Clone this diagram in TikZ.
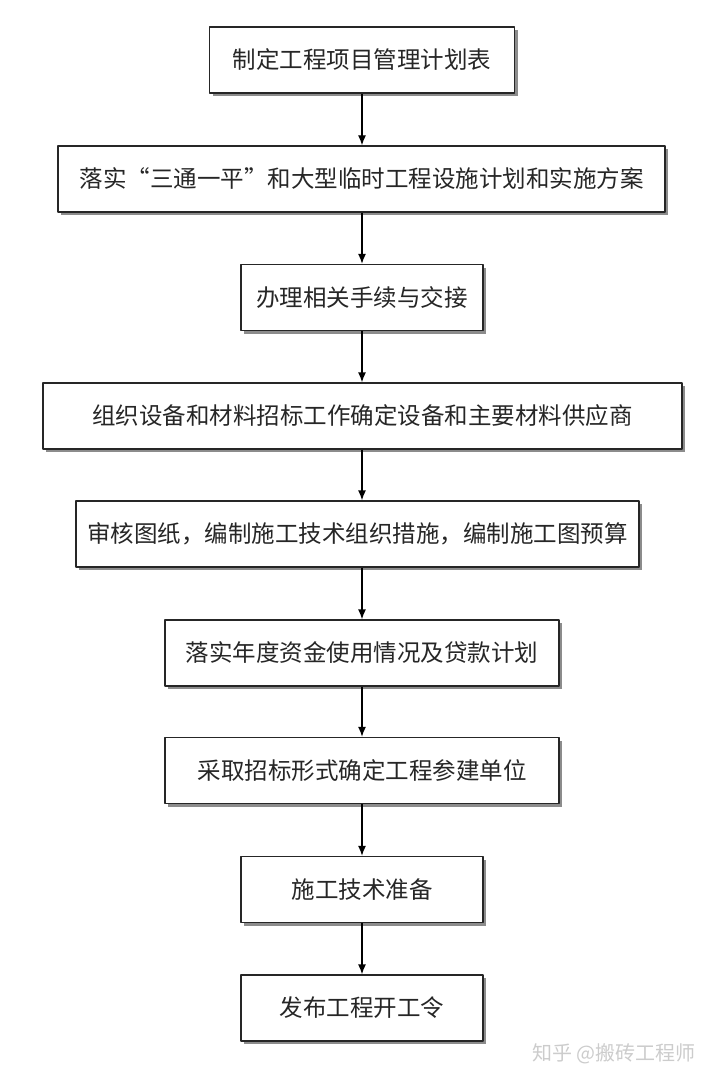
\documentclass[tikz,border=0pt]{standalone}
\usepackage{fontspec}
\setmainfont{Noto Sans CJK SC}
\usetikzlibrary{shadows,arrows.meta}
\begin{document}
\begin{tikzpicture}[x=1pt, y=-1pt, >={Latex[length=10pt,width=8pt]}, line join=round,
    box/.style={draw=black!85, line width=1.3pt, fill=white, inner sep=0pt, minimum height=66pt,
        text=black!85, font=\fontsize{23.5}{27}\selectfont,
        drop shadow={shadow xshift=3pt, shadow yshift=-3pt, fill=black!45, opacity=1}}]
    \useasboundingbox (0,0) rectangle (720,1067);
    % boxes top to bottom
    \node[box, minimum width=305pt] (b1) at (362,60) {制定工程项目管理计划表};
    \node[box, minimum width=607pt] (b2) at (361.5,179) {落实“三通一平”和大型临时工程设施计划和实施方案};
    \node[box, minimum width=242pt] (b3) at (362,297.5) {办理相关手续与交接};
    \node[box, minimum width=639pt] (b4) at (362.5,416) {组织设备和材料招标工作确定设备和主要材料供应商};
    \node[box, minimum width=563pt] (b5) at (357.5,534) {审核图纸，编制施工技术组织措施，编制施工图预算};
    \node[box, minimum width=394pt] (b6) at (362,653) {落实年度资金使用情况及贷款计划};
    \node[box, minimum width=394pt] (b7) at (362,770.5) {采取招标形式确定工程参建单位};
    \node[box, minimum width=242pt] (b8) at (362,889.5) {施工技术准备};
    \node[box, minimum width=242pt] (b9) at (362,1008) {发布工程开工令};
    \foreach \i/\j in {b1/b2,b2/b3,b3/b4,b4/b5,b5/b6,b6/b7,b7/b8,b8/b9}
        \draw[->, line width=1.3pt] (\i.south -| b1) -- (\j.north -| b1);
    % watermark
    \node[text=black!20, font=\fontsize{20}{24}\selectfont] (wm) at (614,1054) {知乎 @搬砖工程师};
\end{tikzpicture}
\end{document}
